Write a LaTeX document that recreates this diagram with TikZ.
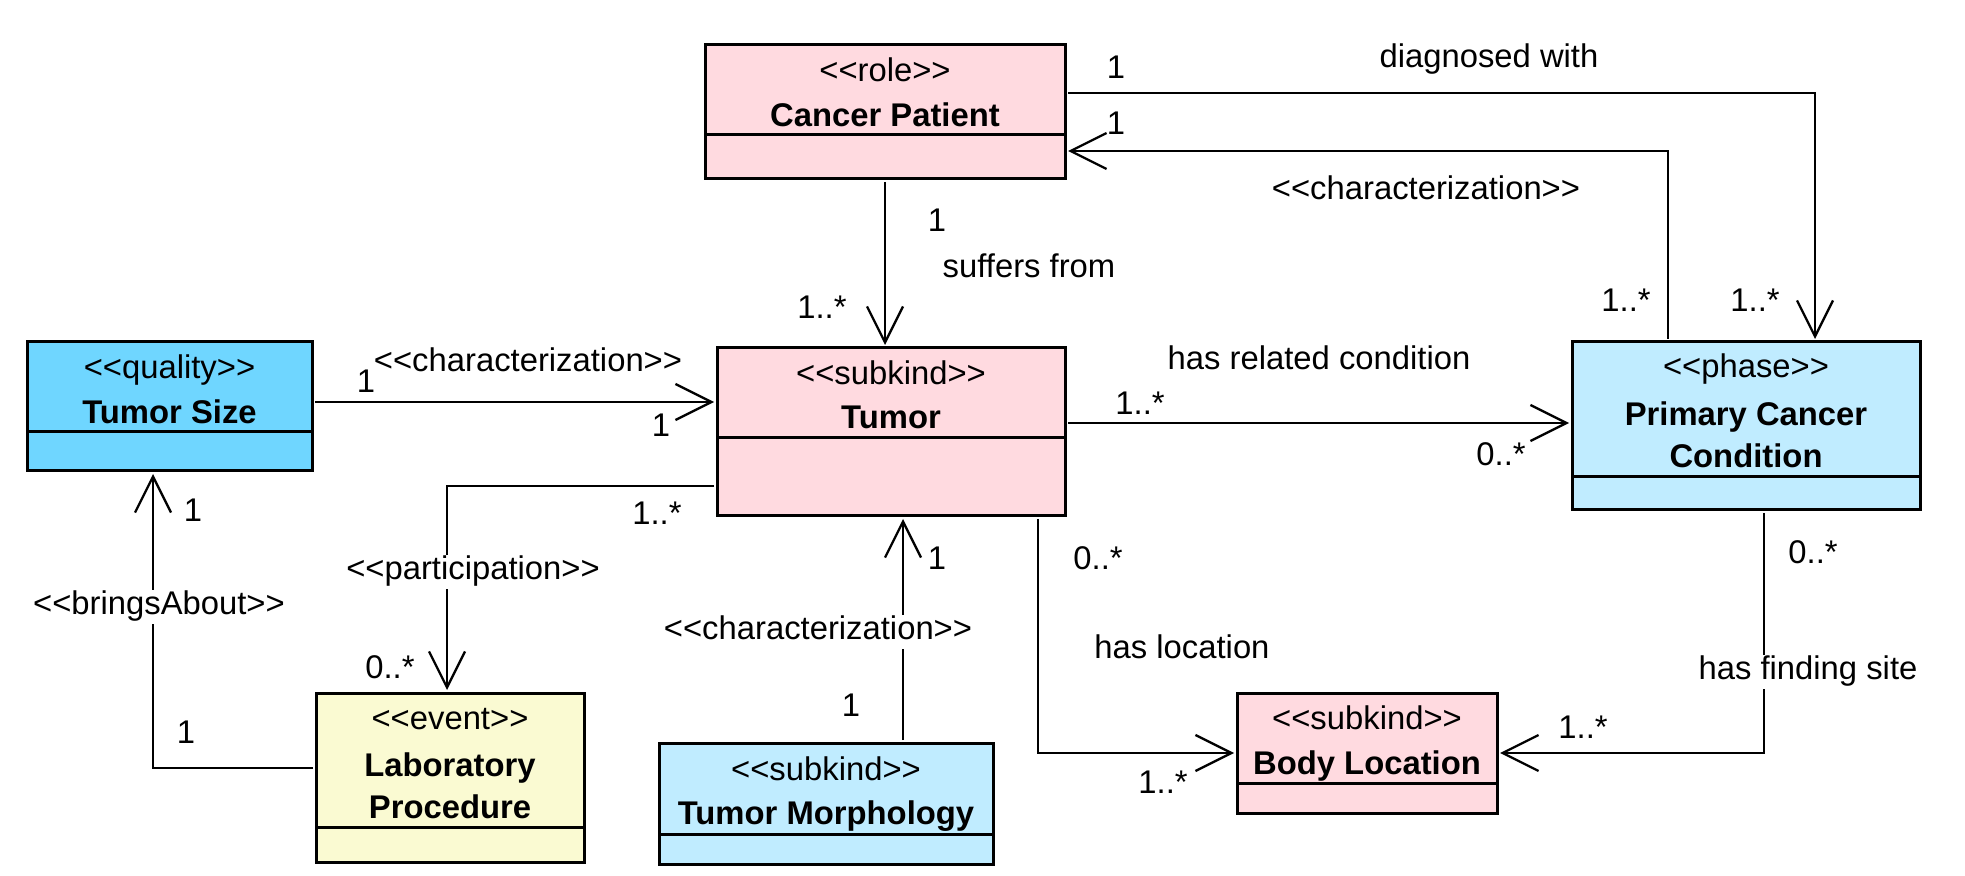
\documentclass[tikz,border=0pt]{standalone}
\usepackage{fontspec}
\setmainfont{Liberation Sans}[Ligatures=TeXOff]
\usetikzlibrary{arrows.meta}
\definecolor{pinkc}{HTML}{FFDAE0}
\definecolor{cyanc}{HTML}{6FD6FF}
\definecolor{lbluec}{HTML}{C0ECFF}
\definecolor{yellowc}{HTML}{FAFAD2}
\begin{document}
\begin{tikzpicture}[x=0.5pt,y=-0.5pt,
  classbox/.style={draw=black, line width=1.5pt, inner sep=0pt, outer sep=0pt},
  divider/.style={line width=1.5pt},
  lbl/.style={font=\fontsize{16.4}{21}\selectfont, inner sep=2pt, text height=0.9em, text depth=0.2em, yshift=-2.2pt},
  nm/.style={lbl, font=\fontsize{16.4}{21}\selectfont\bfseries},
  wlbl/.style={lbl, fill=white, inner sep=3pt},
  assoc/.style={line width=1.15pt, shorten <=1.5pt},
  arr/.style={assoc, -{Straight Barb[length=18pt,width=18pt,line width=1.15pt]}, shorten >=1.5pt}
]
\useasboundingbox (0,0) rectangle (1965,876);

% ---------- class boxes ----------
\node[classbox, fill=pinkc, minimum width=180pt, minimum height=67pt] (cp) at (885,112) {};
\draw[divider] (cp.west |- 0,135) -- (cp.east |- 0,135);
\node[lbl] (cps) at (885,70) {<<role>>};
\node[nm] (cpn) at (885,115) {Cancer Patient};

\node[classbox, fill=cyanc, minimum width=142.5pt, minimum height=64.5pt] (tsize) at (169.5,406.5) {};
\draw[divider] (tsize.west |- 0,432) -- (tsize.east |- 0,432);
\node[lbl] (tss) at (169.5,367) {<<quality>>};
\node[nm] (tsn) at (169.5,412) {Tumor Size};

\node[classbox, fill=pinkc, minimum width=174pt, minimum height=84pt] (tumor) at (891,432) {};
\draw[divider] (tumor.west |- 0,438) -- (tumor.east |- 0,438);
\node[lbl] (tus) at (891,373) {<<subkind>>};
\node[nm] (tun) at (891,417) {Tumor};

\node[classbox, fill=lbluec, minimum width=174pt, minimum height=84pt] (pcc) at (1746,426) {};
\draw[divider] (pcc.west |- 0,477) -- (pcc.east |- 0,477);
\node[lbl] (pccs) at (1746,366) {<<phase>>};
\node[nm] (pccn) at (1746,414) {Primary Cancer};
\node[nm] (pccn2) at (1746,456) {Condition};

\node[classbox, fill=yellowc, minimum width=134pt, minimum height=84.5pt] (lab) at (450,777.5) {};
\draw[divider] (lab.west |- 0,827) -- (lab.east |- 0,827);
\node[lbl] (labs) at (450,718) {<<event>>};
\node[nm] (labn) at (450,765) {Laboratory};
\node[nm] (labn2) at (450,807) {Procedure};

\node[classbox, fill=lbluec, minimum width=167pt, minimum height=60.5pt] (morph) at (826,803.5) {};
\draw[divider] (morph.west |- 0,834) -- (morph.east |- 0,834);
\node[lbl] (morphs) at (826,769) {<<subkind>>};
\node[nm] (morphn) at (826,813) {Tumor Morphology};

\node[classbox, fill=pinkc, minimum width=130pt, minimum height=60pt] (body) at (1367,753) {};
\draw[divider] (body.west |- 0,783) -- (body.east |- 0,783);
\node[lbl] (bodys) at (1367,718) {<<subkind>>};
\node[nm] (bodyn) at (1367,763) {Body Location};

% ---------- connectors ----------
% suffers from
\draw[arr] (cp.south -| 885,0) -- (tumor.north -| 885,0);
\node[lbl] (sf1) at (937,220) {1};
\node[lbl] (sfl) at (1029,266) {suffers from};
\node[lbl] (sf2) at (822,307) {1..*};

% diagnosed with
\draw[arr] (cp.east |- 0,93) -| (pcc.north -| 1815,0);
\node[lbl] (dw1) at (1116,67) {1};
\node[lbl] (dwl) at (1489,56) {diagnosed with};
\node[lbl] (dw2) at (1755,300) {1..*};

% characterization PCC -> CP
\draw[arr] (pcc.north -| 1668,0) |- (cp.east |- 0,151);
\node[lbl] (cc1) at (1116,123) {1};
\node[lbl] (ccl) at (1426,188) {<<characterization>>};
\node[lbl] (cc2) at (1626,300) {1..*};

% Tumor Size -> Tumor
\draw[arr] (tsize.east |- 0,402) -- (tumor.west |- 0,402);
\node[lbl] (ts1) at (366,381) {1};
\node[lbl] (tsl) at (528,360) {<<characterization>>};
\node[lbl] (ts2) at (661,425) {1};

% has related condition
\draw[arr] (tumor.east |- 0,423) -- (pcc.west |- 0,423);
\node[lbl] (hr1) at (1140,403) {1..*};
\node[lbl] (hrl) at (1319,358) {has related condition};
\node[lbl] (hr2) at (1501,454) {0..*};

% participation
\draw[arr] (tumor.west |- 0,486) -| (lab.north -| 447,0);
\node[lbl] (pa1) at (657,513) {1..*};
\node[wlbl] (pal) at (473,568) {<<participation>>};
\node[lbl] (pa2) at (390,667) {0..*};

% bringsAbout
\draw[arr] (lab.west |- 0,768) -| (tsize.south -| 153,0);
\node[lbl] (ba1) at (193,510) {1};
\node[wlbl] (bal) at (159,603) {<<bringsAbout>>};
\node[lbl] (ba2) at (186,732) {1};

% Morphology characterization
\draw[arr] (morph.north -| 903,0) -- (tumor.south -| 903,0);
\node[lbl] (mo1) at (937,558) {1};
\node[wlbl] (mol) at (818,628) {<<characterization>>};
\node[lbl] (mo2) at (851,705) {1};

% has location
\draw[arr] (tumor.south -| 1038,0) |- (body.west |- 0,753);
\node[lbl] (hl1) at (1098,558) {0..*};
\node[lbl] (hll) at (1182,647) {has location};
\node[lbl] (hl2) at (1163,782) {1..*};

% has finding site
\draw[arr] (pcc.south -| 1764,0) |- (body.east |- 0,753);
\node[lbl] (hf1) at (1813,552) {0..*};
\node[wlbl] (hfl) at (1808,668) {has finding site};
\node[lbl] (hf2) at (1583,727) {1..*};
\end{tikzpicture}
\end{document}
